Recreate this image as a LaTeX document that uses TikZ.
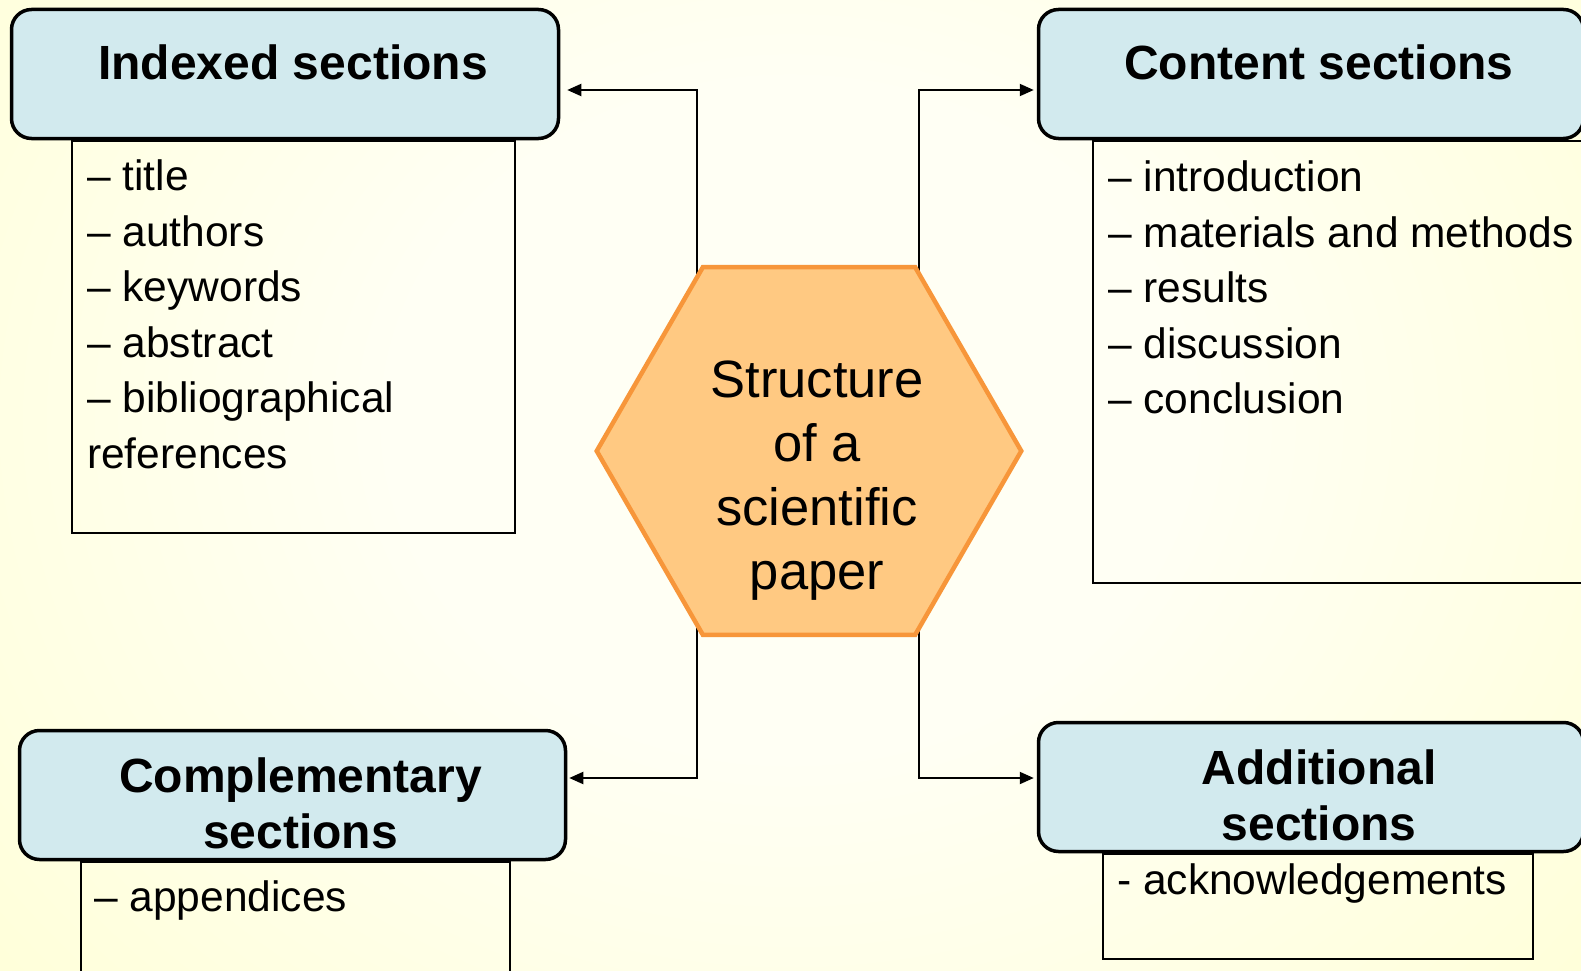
\documentclass[tikz,border=0pt]{standalone}
\usepackage{fontspec}
\setmainfont{Liberation Sans}
\usetikzlibrary{arrows.meta,positioning,shapes.geometric}
\definecolor{bgedge}{RGB}{255,255,191}
\definecolor{bgcentre}{RGB}{255,255,244}
\definecolor{headblue}{RGB}{210,234,238}
\definecolor{hubfill}{RGB}{255,201,130}
\definecolor{hubline}{RGB}{247,150,58}
\pgfdeclareradialshading{bgglow}{\pgfpoint{0bp}{0bp}}{color(0bp)=(bgcentre); color(12bp)=(bgcentre); color(50bp)=(bgedge)}

\begin{document}
\begin{tikzpicture}[x=1pt, y=-1pt,
  nudge/.style={align=center, execute at begin node={\advance\leftskip by 16pt\spaceskip=\fontdimen2\font\relax}},
  head/.style={draw, line width=3.5pt, rounded corners=20pt, fill=headblue, inner sep=0pt,
    text width=500pt, nudge, font=\bfseries\fontsize{48pt}{56pt}\selectfont},
  onerow/.style={text height=34pt, text depth=22pt},
  tworow/.style={text height=34pt, text depth=40pt},
  listbox/.style={draw, line width=1.6pt, inner sep=0pt, anchor=north west},
  items/.style={align=left, inner sep=0pt, font=\fontsize{42.5pt}{55.4pt}\selectfont},
  hub/.style={regular polygon, regular polygon sides=6, minimum size=416pt, inner sep=0pt,
    fill=hubfill, draw=hubline, line width=4.5pt, text width=260pt, nudge,
    font=\fontsize{52.5pt}{64pt}\selectfont, text height=39pt, text depth=147pt},
  conn/.style={draw, line width=2pt, ->},
  >={Triangle[length=14pt, width=12pt]}]
\path[use as bounding box] (0,0) rectangle (1581,971);
\clip (0,0) rectangle (1581,971);
\shade[shading=bgglow] (-40,-280) rectangle (1620,1120);

\node[listbox, minimum width=443pt, minimum height=392pt] (idxlist) at (71,140) {};
\node[listbox, minimum width=500pt, minimum height=442pt] (cntlist) at (1092,140) {};
\node[listbox, minimum width=429pt, minimum height=140pt] (cmplist) at (80,861) {};
\node[listbox, minimum width=430pt, minimum height=105pt] (addlist) at (1102,853) {};
\node[items, below right=20pt and 16pt of idxlist.north west] (idxitems)
  {– title\\– authors\\– keywords\\– abstract\\– bibliographical\\references};
\node[items, below right=21pt and 16pt of cntlist.north west] (cntitems)
  {– introduction\\– materials and methods\\– results\\– discussion\\– conclusion};
\node[items, below right=19pt and 14pt of cmplist.north west] (cmpitems) {– appendices};
\node[items, below right=10pt and 15pt of addlist.north west] (additems) {- acknowledgements};

\node[head, onerow, minimum width=547pt, minimum height=129pt] (idxhead) at (285,74) {Indexed sections};
\node[head, onerow, minimum width=545pt, minimum height=129pt] (cnthead) at (1311,74) {Content sections};
\node[head, tworow, minimum width=546pt, minimum height=129pt] (cmphead) at (292.5,795) {Complementary\\sections};
\node[head, tworow, minimum width=545pt, minimum height=129pt] (addhead) at (1311,787) {Additional\\sections};

\coordinate (ltrunk) at (697,451);
\coordinate (rtrunk) at (919,451);
\draw[conn, shorten >=7pt] (ltrunk) |- ([yshift=-16pt]idxhead.east);
\draw[conn, shorten >=2pt] (ltrunk) |- ([yshift=17pt]cmphead.east);
\draw[conn, shorten >=3pt] (rtrunk) |- ([yshift=-16pt]cnthead.west);
\draw[conn, shorten >=3pt] (rtrunk) |- ([yshift=9pt]addhead.west);

\node[hub] (hub) at (809,451) {Structure\\of a\\scientific\\paper};
\end{tikzpicture}
\end{document}
